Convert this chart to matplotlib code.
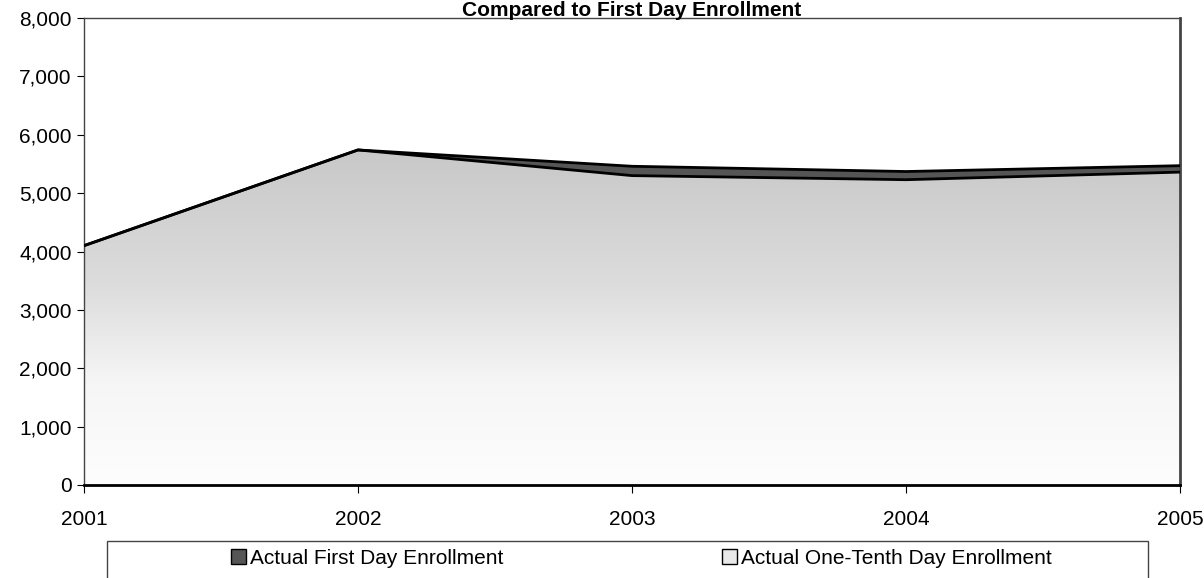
import numpy as np
import matplotlib
matplotlib.use("Agg")
import matplotlib.pyplot as plt
from matplotlib.patches import Patch, Rectangle
from matplotlib.ticker import FuncFormatter

plt.rcParams['font.family'] = ['Liberation Sans', 'DejaVu Sans']

years = [2001, 2002, 2003, 2004, 2005]
first_day = [4100, 5740, 5460, 5370, 5470]
one_tenth = [4100, 5740, 5300, 5230, 5360]

fig = plt.figure(figsize=(12.04, 5.78), dpi=100)
ax = fig.add_axes([84 / 1204, 93 / 578, 1096 / 1204, 467 / 578])

# first day area behind, dark band shows the difference
ax.fill_between(years, first_day, color='#555555', zorder=1)
ax.plot(years, first_day, color='black', lw=2, zorder=3)

# one-tenth area with a grey-to-white gradient
poly = ax.fill_between(years, one_tenth, color='none', zorder=2)
grad = np.linspace(0, 1, 256).reshape(-1, 1)
cmap = matplotlib.colors.LinearSegmentedColormap.from_list(
    'g', [(0, '#fdfdfd'), (0.3, '#f6f6f6'), (0.6, '#dcdcdc'), (1, '#c8c8c8')])
img = ax.imshow(grad, cmap=cmap, aspect='auto', origin='lower',
                extent=[years[0], years[-1], 0, max(one_tenth)], zorder=2)
img.set_clip_path(poly.get_paths()[0], transform=ax.transData)
ax.plot(years, one_tenth, color='black', lw=2, zorder=3)

ax.set_xlim(2001, 2005)
ax.set_ylim(0, 8000)
ax.set_xticks(years)
ax.set_yticks(range(0, 8001, 1000))
ax.yaxis.set_major_formatter(FuncFormatter(lambda v, p: f'{int(v):,}'))
ax.tick_params(axis='x', direction='out', length=6, pad=12, labelsize=15)
ax.tick_params(axis='y', direction='out', length=5, pad=4, labelsize=15)

for s in ['left', 'top', 'right']:
    ax.spines[s].set_color('#444444')
    ax.spines[s].set_linewidth(1)
ax.spines['bottom'].set_linewidth(2)
ax.spines['right'].set_linewidth(2)

fig.text(632 / 1204, 1 - 1 / 578, 'Compared to First Day Enrollment',
         ha='center', va='top', fontsize=15, fontweight='bold')

# legend box
fig.patches.append(Rectangle((107 / 1204, -0.01), 1041 / 1204, 43 / 578,
                             transform=fig.transFigure, fill=False,
                             edgecolor='#444444', lw=1))
h1 = Patch(facecolor='#555555', edgecolor='black', label='Actual First Day Enrollment')
h2 = Patch(facecolor='#e8e8e8', edgecolor='black', label='Actual One-Tenth Day Enrollment')
for h, cx in [(h1, 367), (h2, 887)]:
    fig.legend(handles=[h], loc='center', bbox_to_anchor=(cx / 1204, 1 - 558 / 578),
               frameon=False, fontsize=15, handlelength=0.7, handleheight=0.7,
               handletextpad=0.2)

fig.savefig('out.png', dpi=100)
